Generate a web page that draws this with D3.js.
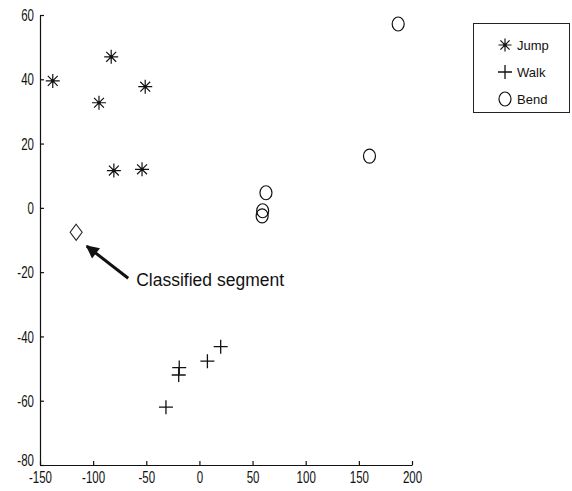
<!DOCTYPE html>
<html>
<head>
<meta charset="utf-8">
<script src="https://cdn.jsdelivr.net/npm/d3@7"></script>
<style>
  html, body { margin: 0; padding: 0; background: #fff; }
  svg { display: block; }
  .axis text { font-family: "Liberation Sans", Arial, sans-serif; font-size: 16px; fill: #111; }
  .axis path, .axis line { stroke: #111; stroke-width: 1.2; }
  .legend text { font-family: "Liberation Sans", Arial, sans-serif; font-size: 13px; fill: #111; }
  .note { font-family: "Liberation Sans", Arial, sans-serif; font-size: 17.5px; fill: #111; }
</style>
</head>
<body>
<svg id="chart" width="572" height="491"></svg>
<script>
// Feature-space projection of motion segments
const jumpX = [-138, -83, -94.5, -51, -80.5, -54];
const jumpY = [39.5, 47, 32.7, 37.7, 11.6, 12];
const walkX = [20, 7.5, -19, -19.5, -31.5];
const walkY = [-43.2, -47.7, -49.7, -52, -62];
const bendX = [187, 160, 62.6, 59.5, 59];
const bendY = [57.2, 16.1, 4.7, -0.9, -2.5];
const classifiedX = [-116];
const classifiedY = [-7.6];
const xTicks = [-150, -100, -50, 0, 50, 100, 150, 200];
const yTicks = [-80, -60, -40, -20, 0, 20, 40, 60];
const legendLabels = ["Jump", "Walk", "Bend"];
const noteText = "Classified segment";
// arrow from label towards the classified point, in data units
const arrowFrom = [-67, -21.9];
const arrowTo = [-106, -11.9];
const noteAt = [-59.5, -24.2];

const svg = d3.select("#chart");
const x = d3.scaleLinear().domain([-150, 200]).range([40, 412]);
const y = d3.scaleLinear().domain([-80, 60]).range([465, 15]);
const plain = d => String(d); // ASCII hyphen for negatives

// axes with inward ticks
const gx = svg.append("g").attr("class", "axis")
  .attr("transform", `translate(0,${y(-80)})`)
  .call(d3.axisBottom(x).tickValues(xTicks).tickSizeInner(-4).tickSizeOuter(0).tickFormat(plain));
gx.selectAll("text").attr("y", 0).attr("dy", "0.71em")
  .attr("transform", "translate(0,7) scale(0.72,1)");

const gy = svg.append("g").attr("class", "axis")
  .attr("transform", `translate(${x(-150)},0)`)
  .call(d3.axisLeft(y).tickValues(yTicks).tickSizeInner(-4).tickSizeOuter(0).tickFormat(plain));
gy.selectAll("text").attr("x", 0).attr("dy", "0.35em")
  .attr("transform", d => `translate(-6,${d === -80 ? -5 : 0}) scale(0.72,1)`);

// marker shapes
function asterisk(g, s) {
  const a = s * 0.707;
  const p = `M${-s},0H${s}M0,${-s}V${s}M${-a},${-a}L${a},${a}M${-a},${a}L${a},${-a}`;
  g.append("path").attr("d", p).attr("stroke", "#111").attr("stroke-width", 1.2).attr("fill", "none");
  g.append("circle").attr("r", 1.6).attr("fill", "#111");
}
function plus(g, s) {
  g.append("path").attr("d", `M${-s},0H${s}M0,${-s}V${s}`)
    .attr("stroke", "#111").attr("stroke-width", 1.3).attr("fill", "none");
}
function ring(g) {
  g.append("ellipse").attr("rx", 6).attr("ry", 7)
    .attr("stroke", "#111").attr("stroke-width", 1.2).attr("fill", "none");
}

const pts = svg.append("g");
jumpX.forEach((v, i) => asterisk(pts.append("g").attr("transform", `translate(${x(v)},${y(jumpY[i])})`), 7));
walkX.forEach((v, i) => plus(pts.append("g").attr("transform", `translate(${x(v)},${y(walkY[i])})`), 7));
bendX.forEach((v, i) => ring(pts.append("g").attr("transform", `translate(${x(v)},${y(bendY[i])})`)));

// classified segment (diamond)
classifiedX.forEach((v, i) => {
  pts.append("path")
    .attr("transform", `translate(${x(v)},${y(classifiedY[i])})`)
    .attr("d", "M0,-8L6,0L0,8L-6,0Z")
    .attr("stroke", "#222").attr("stroke-width", 1.1).attr("fill", "none");
});

// annotation arrow and label
svg.append("defs").append("marker")
  .attr("id", "head").attr("viewBox", "0 0 10 10").attr("refX", 9).attr("refY", 5)
  .attr("markerUnits", "userSpaceOnUse").attr("markerWidth", 15).attr("markerHeight", 13)
  .attr("orient", "auto")
  .append("path").attr("d", "M0,0L10,5L0,10Z").attr("fill", "#111");

svg.append("line")
  .attr("x1", x(arrowFrom[0])).attr("y1", y(arrowFrom[1]))
  .attr("x2", x(arrowTo[0])).attr("y2", y(arrowTo[1]))
  .attr("stroke", "#111").attr("stroke-width", 3)
  .attr("marker-end", "url(#head)");

svg.append("text").attr("class", "note")
  .attr("x", x(noteAt[0])).attr("y", y(noteAt[1]))
  .text(noteText);

// legend
const lg = svg.append("g").attr("class", "legend");
lg.append("rect").attr("x", 473.5).attr("y", 23.5).attr("width", 96).attr("height", 89)
  .attr("fill", "#fff").attr("stroke", "#222").attr("stroke-width", 1);
const rowY = [45, 72, 99];
const drawers = [g => asterisk(g, 6.5), g => plus(g, 7), g => ring(g)];
legendLabels.forEach((lab, i) => {
  const g = lg.append("g").attr("transform", `translate(505,${rowY[i]})`);
  drawers[i](g);
  lg.append("text").attr("x", 517).attr("y", rowY[i]).attr("dy", "0.36em").text(lab);
});
</script>
</body>
</html>
